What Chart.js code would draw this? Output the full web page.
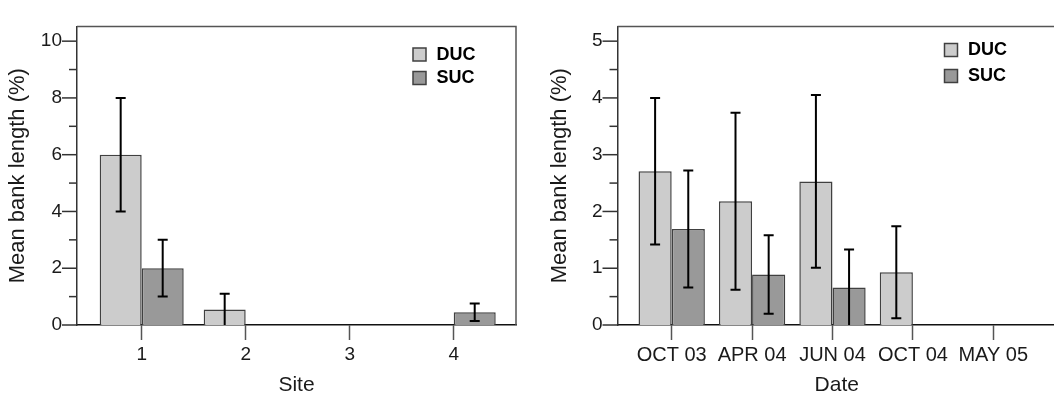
<!DOCTYPE html>
<html>
<head>
<meta charset="utf-8">
<title>Mean bank length</title>
<script src="https://cdn.jsdelivr.net/npm/chart.js@4.4.1/dist/chart.umd.min.js"></script>
<style>
  html, body { margin: 0; padding: 0; background: #fff; overflow: hidden; }
  body { width: 1054px; height: 401px; position: relative; }
  .panel { position: absolute; top: 0; }
  #sitePanel { left: 0; }
  #datePanel { left: 527px; }
</style>
</head>
<body>
<div class="panel" id="sitePanel"><canvas id="siteChart" width="527" height="401"></canvas></div>
<div class="panel" id="datePanel"><canvas id="dateChart" width="533" height="401"></canvas></div>
<script>
/* ---------- data ---------- */
const SITES = ["1", "2", "3", "4"];
const SITE_DUC = [6.0, 0.55, 0, 0];
const SITE_DUC_ERR = [2.0, 0.55, 0, 0];
const SITE_SUC = [2.0, 0, 0, 0.45];
const SITE_SUC_ERR = [1.0, 0, 0, 0.31];
const SITE_Y_MAJOR = [0, 2, 4, 6, 8, 10];
const SITE_Y_MINOR = [1, 3, 5, 7, 9];

const DATES = ["OCT 03", "APR 04", "JUN 04", "OCT 04", "MAY 05"];
const DATE_DUC = [2.71, 2.18, 2.53, 0.93, 0];
const DATE_DUC_ERR = [1.29, 1.56, 1.52, 0.81, 0];
const DATE_SUC = [1.69, 0.89, 0.66, 0, 0];
const DATE_SUC_ERR = [1.03, 0.69, 0.67, 0, 0];
const DATE_Y_MAJOR = [0, 1, 2, 3, 4, 5];
const DATE_Y_MINOR = [0.5, 1.5, 2.5, 3.5, 4.5];

/* ---------- style ---------- */
const FONT = "'Liberation Sans', Arial, Helvetica, sans-serif";
const DUC_FILL = "#cccccc";
const SUC_FILL = "#999999";
const BAR_EDGE = "#404040";
const AXIS_COLOR = "#333333";
const FRAME_COLOR = "#555555";
const TEXT_COLOR = "#1a1a1a";

/* ---------- plugins ---------- */
const errorBars = {
  id: "errorBars",
  afterDatasetsDraw(chart) {
    const ctx = chart.ctx;
    const yScale = chart.scales.y;
    ctx.save();
    ctx.strokeStyle = "#000";
    ctx.lineWidth = 2;
    chart.data.datasets.forEach((ds, di) => {
      const meta = chart.getDatasetMeta(di);
      meta.data.forEach((bar, i) => {
        const err = ds.errors[i];
        if (!err) return;
        const v = ds.data[i].y;
        const low = Math.max(0, v - err);
        const top = yScale.getPixelForValue(v + err);
        const bot = yScale.getPixelForValue(low);
        ctx.beginPath();
        ctx.moveTo(bar.x, top);
        ctx.lineTo(bar.x, bot);
        ctx.moveTo(bar.x - 5, top);
        ctx.lineTo(bar.x + 5, top);
        if (low > 0) {
          ctx.moveTo(bar.x - 5, bot);
          ctx.lineTo(bar.x + 5, bot);
        }
        ctx.stroke();
      });
    });
    ctx.restore();
  }
};

/* long ticks on labelled values, short ones in between */
const yTickMarks = {
  id: "yTickMarks",
  afterDraw(chart, args, opts) {
    const ctx = chart.ctx;
    const yScale = chart.scales.y;
    const left = chart.chartArea.left;
    ctx.save();
    ctx.strokeStyle = AXIS_COLOR;
    ctx.lineWidth = 1.5;
    yScale.ticks.forEach((t) => {
      const len = opts.major.includes(t.value) ? 15 : 8;
      const py = yScale.getPixelForValue(t.value);
      ctx.beginPath();
      ctx.moveTo(left - len, py);
      ctx.lineTo(left, py);
      ctx.stroke();
    });
    ctx.restore();
  }
};

/* top and right sides of the plot box */
const frame = {
  id: "frame",
  beforeDatasetsDraw(chart) {
    const { ctx, chartArea: a } = chart;
    ctx.save();
    ctx.strokeStyle = FRAME_COLOR;
    ctx.lineWidth = 1.5;
    ctx.beginPath();
    ctx.moveTo(a.left, a.top);
    ctx.lineTo(a.right, a.top);
    ctx.lineTo(a.right, a.bottom);
    ctx.stroke();
    ctx.restore();
  }
};

const boxLegend = {
  id: "boxLegend",
  afterDraw(chart, args, opts) {
    const { ctx, chartArea: a } = chart;
    const x = a.left + opts.dx;
    ctx.save();
    ctx.font = "bold 18px " + FONT;
    ctx.textBaseline = "middle";
    ctx.textAlign = "left";
    chart.data.datasets.forEach((ds, i) => {
      const y = opts.top + i * opts.step;
      ctx.fillStyle = ds.backgroundColor;
      ctx.fillRect(x, y, 13, 13);
      ctx.strokeStyle = BAR_EDGE;
      ctx.lineWidth = 1.5;
      ctx.strokeRect(x, y, 13, 13);
      ctx.fillStyle = "#000";
      ctx.fillText(ds.label, x + 23.5, y + 7);
    });
    ctx.restore();
  }
};

/* ---------- chart builder ---------- */
function toPoints(values) {
  return values.map((v, i) => ({ x: i + 1, y: v }));
}

function buildPanel(canvasId, cfg) {
  const yTicks = cfg.major.concat(cfg.minor).sort((a, b) => a - b);

  return new Chart(document.getElementById(canvasId), {
    type: "bar",
    data: {
      datasets: [
        {
          label: "DUC",
          data: toPoints(cfg.duc),
          errors: cfg.ducErr,
          backgroundColor: DUC_FILL,
          borderColor: BAR_EDGE,
          borderWidth: 1.5,
          categoryPercentage: cfg.groupShare,
          barPercentage: 1
        },
        {
          label: "SUC",
          data: toPoints(cfg.suc),
          errors: cfg.sucErr,
          backgroundColor: SUC_FILL,
          borderColor: BAR_EDGE,
          borderWidth: 1.5,
          categoryPercentage: cfg.groupShare,
          barPercentage: 1
        }
      ]
    },
    options: {
      responsive: false,
      animation: false,
      layout: { padding: { top: 9.5, right: cfg.padRight, bottom: 0, left: 0 } },
      plugins: {
        legend: { display: false },
        tooltip: { enabled: false },
        yTickMarks: { major: cfg.major },
        boxLegend: { dx: cfg.legendDx, top: cfg.legendTop, step: cfg.legendStep }
      },
      scales: {
        x: {
          type: "linear",
          min: cfg.xMin,
          max: cfg.xMax,
          offset: false,
          afterBuildTicks: (s) => {
            s.ticks = cfg.labels.map((_, i) => ({ value: i + 1 }));
          },
          afterFit: (s) => { s.height = 76; },
          grid: {
            offset: false,
            drawOnChartArea: false,
            drawTicks: true,
            tickLength: 15,
            tickColor: FRAME_COLOR,
            tickWidth: 1.5
          },
          border: { display: true, color: "#111", width: 1.5 },
          ticks: {
            autoSkip: false,
            maxRotation: 0,
            padding: 3,
            color: TEXT_COLOR,
            font: { family: FONT, size: cfg.xTickSize },
            callback: (v) => cfg.labels[Math.round(v) - 1]
          },
          title: {
            display: true,
            text: cfg.xTitle,
            color: TEXT_COLOR,
            font: { family: FONT, size: 21 },
            padding: { top: 0, bottom: 3 }
          }
        },
        y: {
          min: 0,
          max: cfg.yMax,
          afterBuildTicks: (s) => {
            s.ticks = yTicks.map((v) => ({ value: v }));
          },
          afterFit: (s) => { s.width = cfg.axisWidth; },
          grid: { display: false, drawTicks: false },
          border: { display: true, color: AXIS_COLOR, width: 1.5 },
          ticks: {
            padding: 15,
            color: TEXT_COLOR,
            font: { family: FONT, size: 19 },
            callback: (v) => (cfg.major.includes(v) ? String(v) : "")
          },
          title: {
            display: true,
            text: "Mean bank length (%)",
            color: TEXT_COLOR,
            font: { family: FONT, size: 22 },
            padding: { top: cfg.yTitlePad, bottom: 0 }
          }
        }
      }
    },
    plugins: [frame, errorBars, yTickMarks, boxLegend]
  });
}

buildPanel("siteChart", {
  labels: SITES,
  duc: SITE_DUC,
  ducErr: SITE_DUC_ERR,
  suc: SITE_SUC,
  sucErr: SITE_SUC_ERR,
  major: SITE_Y_MAJOR,
  minor: SITE_Y_MINOR,
  yMax: 10.52,
  xMin: 0.378,
  xMax: 4.599,
  groupShare: 0.808,
  axisWidth: 77,
  padRight: 11,
  yTitlePad: 5,
  xTickSize: 19,
  xTitle: "Site",
  legendDx: 336,
  legendTop: 48,
  legendStep: 23.5
});

buildPanel("dateChart", {
  labels: DATES,
  duc: DATE_DUC,
  ducErr: DATE_DUC_ERR,
  suc: DATE_SUC,
  sucErr: DATE_SUC_ERR,
  major: DATE_Y_MAJOR,
  minor: DATE_Y_MINOR,
  yMax: 5.26,
  xMin: 0.326,
  xMax: 5.78,
  groupShare: 0.825,
  axisWidth: 90.5,
  padRight: 4,
  yTitlePad: 20,
  xTickSize: 20,
  xTitle: "Date",
  legendDx: 327,
  legendTop: 43.5,
  legendStep: 26
});
</script>
</body>
</html>
